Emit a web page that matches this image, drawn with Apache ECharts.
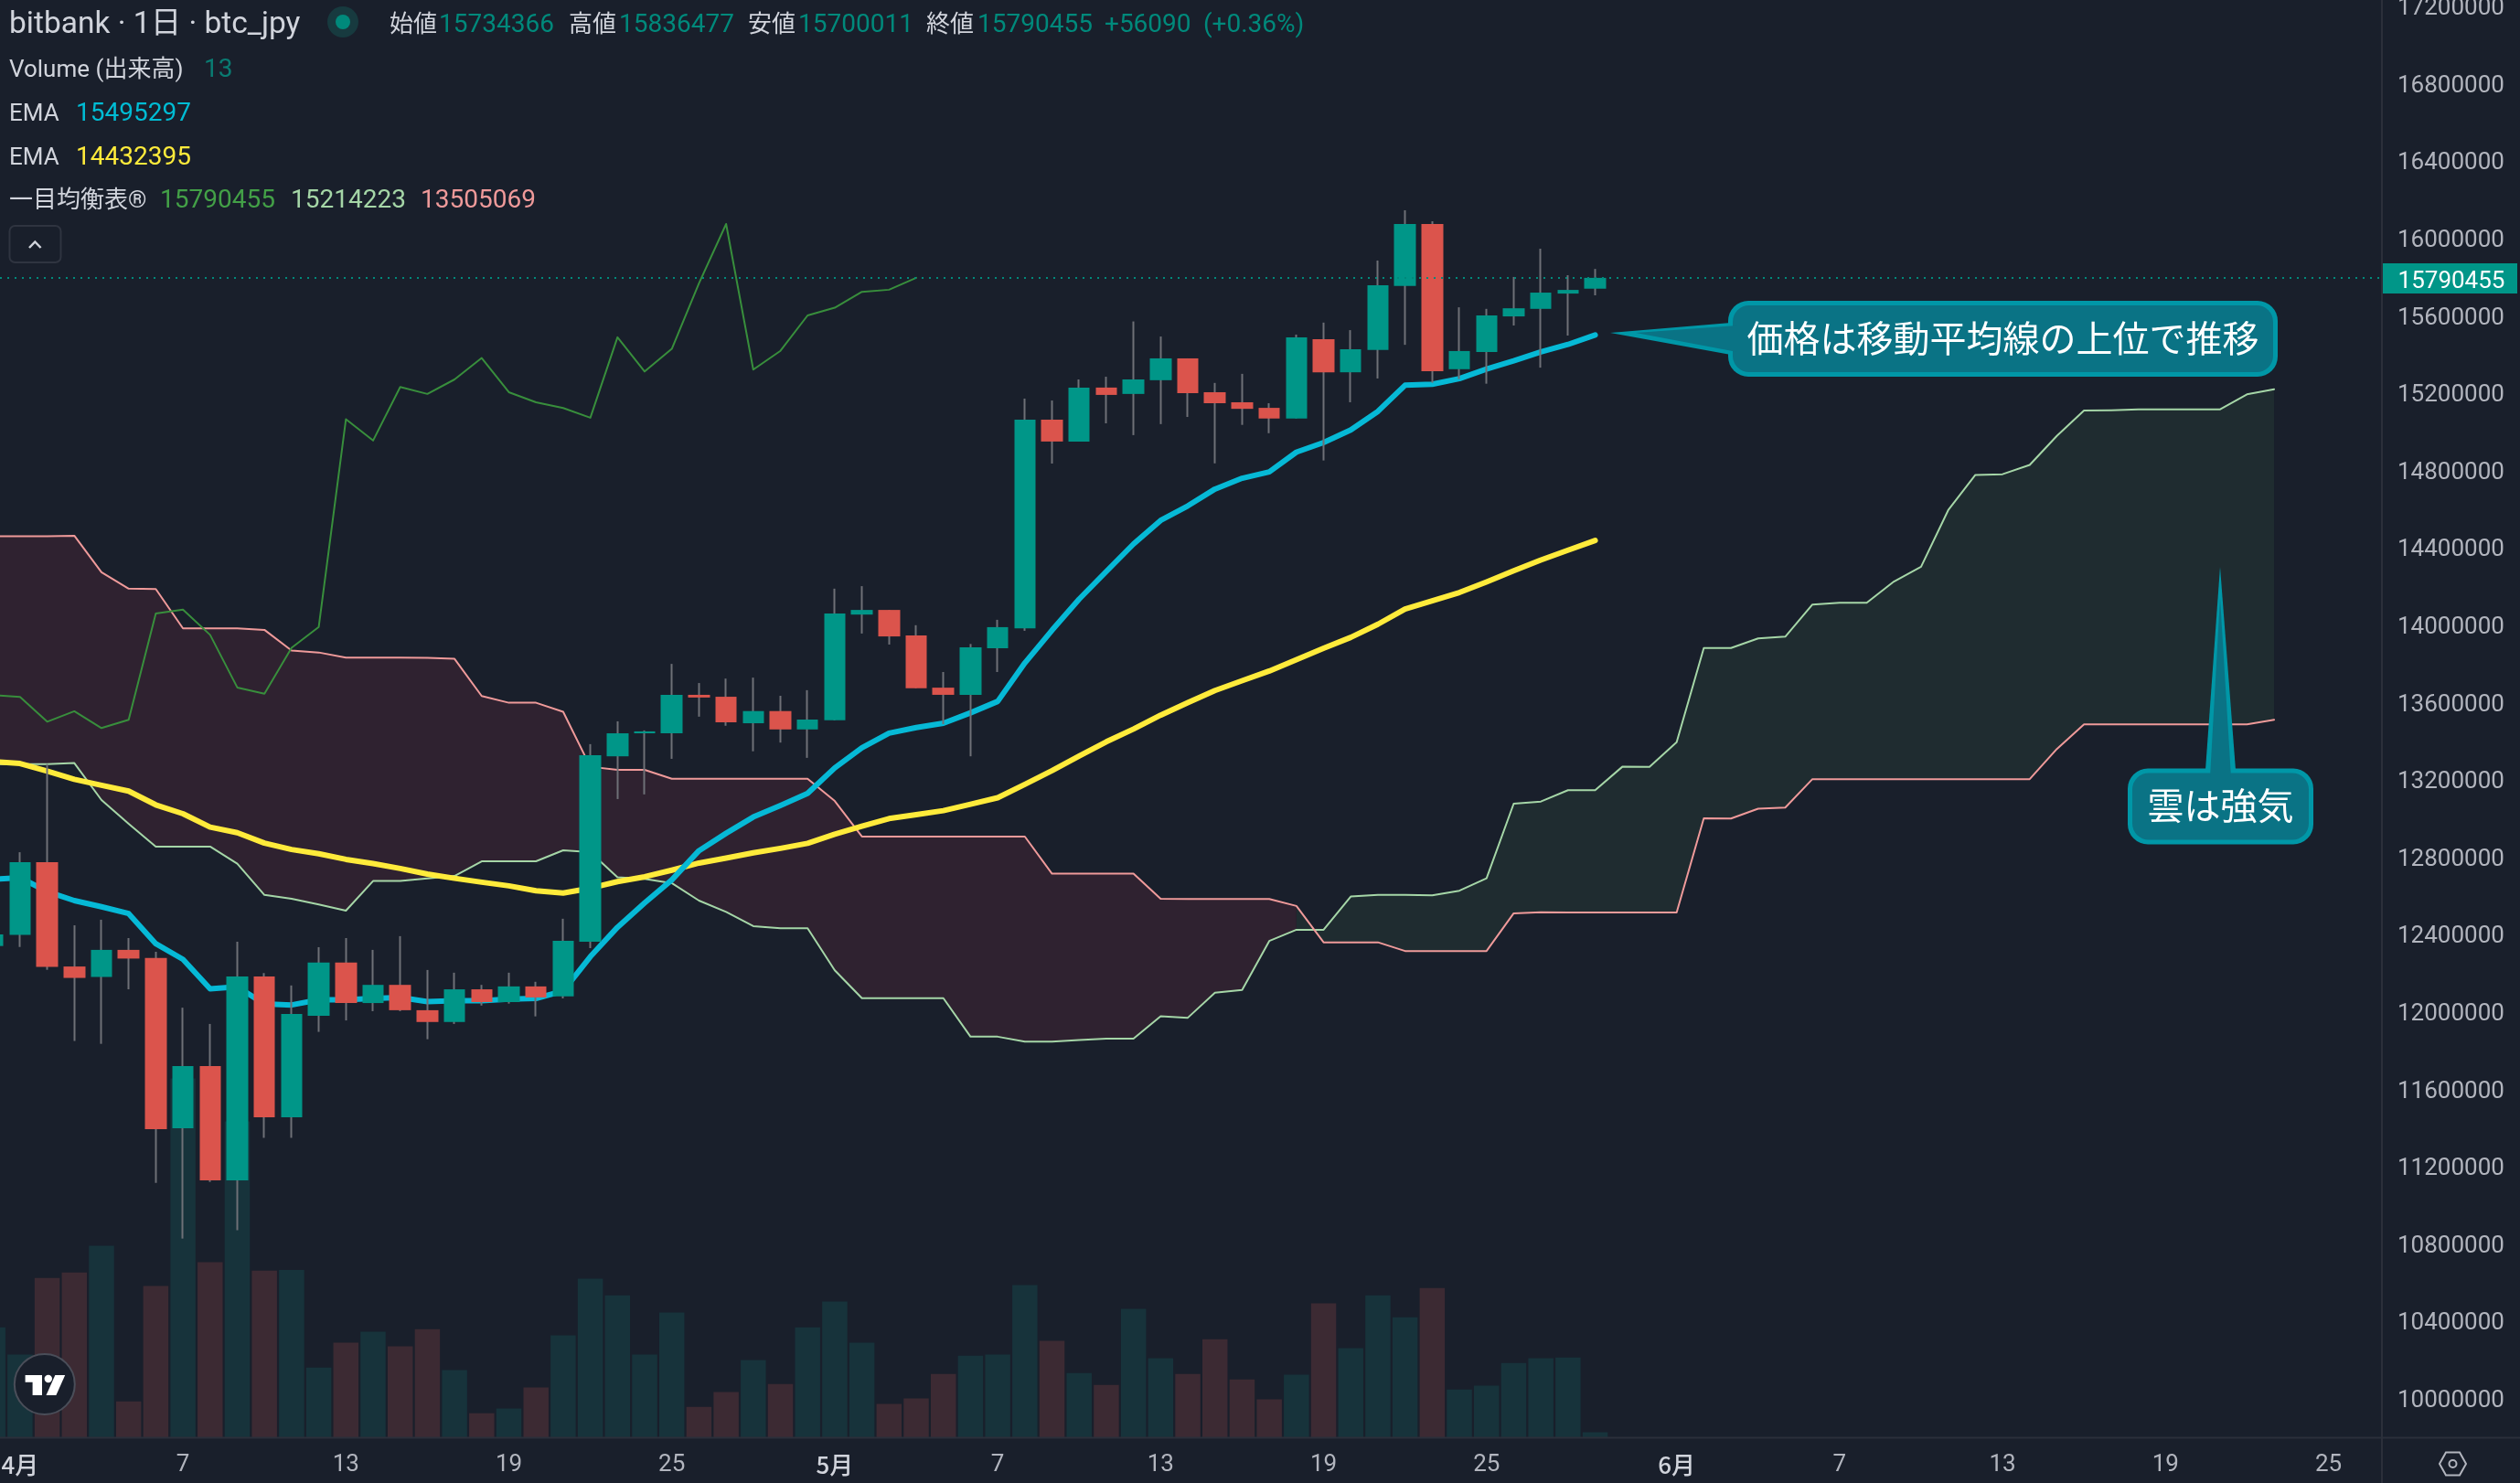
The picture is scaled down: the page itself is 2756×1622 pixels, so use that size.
<!DOCTYPE html>
<html lang="ja">
<head>
<meta charset="utf-8">
<title>bitbank 1日 btc_jpy</title>
<script src="https://cdn.jsdelivr.net/npm/echarts@6/dist/echarts.min.js"></script>
<style>html,body{margin:0;padding:0;background:#191f2b}#c{width:2756px;height:1622px}</style>
</head>
<body>
<div id="c"></div>
<script>
// ---------- values (day 0 = 4月1日, first row = day -1) ----------
const firstDay = -1;
const candles = [ // open, close, low, high
[12335000,12395000,12300000,12450000],[12393000,12769000,12330000,12820000],[12769000,12227000,12212000,13276000],
[12229000,12170000,11844000,12442000],[12175000,12315000,11829000,12471000],[12315000,12270000,12111000,12376000],
[12273000,11388000,11110000,12305000],[11393000,11714000,10822000,12016000],[11714000,11123000,11115000,11932000],
[11123000,12178000,10865000,12357000],[12178000,11449000,11343000,12195000],[11449000,11984000,11343000,12131000],
[11974000,12249000,11891000,12329000],[12249000,12040000,11950000,12376000],[12040000,12134000,11998000,12315000],
[12134000,12003000,11998000,12386000],[12003000,11942000,11853000,12211000],[11942000,12111000,11932000,12197000],
[12111000,12045000,12027000,12134000],[12045000,12126000,12037000,12197000],[12126000,12069000,11971000,12150000],
[12074000,12362000,12064000,12476000],[12357000,13322000,12324000,13379000],[13316000,13435000,13095000,13497000],
[13435000,13445000,13119000,13450000],[13435000,13634000,13303000,13794000],[13634000,13620000,13521000,13695000],
[13624000,13492000,13474000,13718000],[13487000,13550000,13342000,13723000],[13550000,13455000,13387000,13629000],
[13455000,13506000,13308000,13658000],[13502000,14054000,13502000,14183000],[14049000,14073000,13951000,14196000],
[14073000,13936000,13894000,14073000],[13941000,13668000,13668000,13994000],[13671000,13634000,13482000,13752000],
[13634000,13880000,13316000,13897000],[13875000,13984000,13752000,14022000],[13978000,15057000,13965000,15166000],
[15057000,14944000,14830000,15156000],[14944000,15223000,14944000,15265000],[15223000,15185000,15038000,15279000],
[15190000,15265000,14977000,15565000],[15261000,15374000,15034000,15487000],[15374000,15194000,15071000,15374000],
[15199000,15142000,14831000,15247000],[15147000,15113000,15030000,15294000],[15118000,15063000,14987000,15142000],
[15063000,15483000,15063000,15497000],[15473000,15302000,14846000,15559000],[15302000,15421000,15147000,15520000],
[15417000,15752000,15270000,15880000],[15748000,16069000,15444000,16140000],[16069000,15307000,15248000,16083000],
[15318000,15412000,15267000,15638000],[15407000,15596000,15243000,15630000],[15591000,15633000,15544000,15795000],
[15630000,15714000,15326000,15941000],[15709000,15728000,15492000,15804000],[15734366,15790455,15700011,15836477]
];
const volumes = [261,197,378,391,454,86,359,850,415,748,395,397,166,225,251,216,257,160,58,69,119,242,376,337,197,296,73,108,184,127,261,
322,225,80,93,151,194,197,361,229,153,125,305,188,151,233,138,91,149,318,212,337,285,354,114,123,177,188,190,13];
const emaFast = [12680000,12688000,12617000,12570000,12538000,12503000,12347000,12266000,12114000,12124000,12035000,12030000,12057000,12057000,12064000,12069000,12047000,12052000,12052000,12060000,12064000,12102000,12280000,12432000,12558000,12677000,12828000,12918000,13002000,13062000,13124000,13256000,13360000,13436000,13465000,13487000,13541000,13600000,13799000,13968000,14129000,14272000,14414000,14536000,14611000,14698000,14754000,14787000,14889000,14939000,15004000,15100000,15235000,15240000,15269000,15319000,15361000,15407000,15446000,15495297];
const emaSlow = [13289000,13279000,13239000,13197000,13166000,13136000,13065000,13019000,12950000,12921000,12867000,12834000,12812000,12783000,12761000,12736000,12707000,12685000,12665000,12646000,12621000,12609000,12634000,12668000,12693000,12727000,12764000,12790000,12817000,12840000,12866000,12913000,12955000,12994000,13014000,13035000,13068000,13102000,13171000,13242000,13318000,13391000,13457000,13529000,13594000,13656000,13707000,13757000,13816000,13875000,13931000,13999000,14078000,14120000,14163000,14218000,14276000,14331000,14382000,14432395];
const laggingSpan = [13633000,13623000,13495000,13549000,13462000,13505000,14055000,14075000,13944000,13672000,13640000,13877000,13985000,15059000,14949000,15226000,15190000,15265000,15376000,15199000,15147000,15117000,15067000,15483000,15306000,15423000,15762000,16069000,15316000,15413000,15596000,15636000,15718000,15729000,15790455];
const leadingA = [13275000,13275000,13275000,13281000,13090000,12967000,12849000,12849000,12849000,12761000,12599000,12579000,12550000,12518000,12671000,12671000,12684000,12697000,12773000,12773000,12773000,12830000,12820000,12690000,12682000,12660000,12570000,12511000,12438000,12427000,12427000,12209000,12065000,12065000,12065000,12065000,11866000,11866000,11841000,11841000,11849000,11856000,11856000,11972000,11964000,12094000,12108000,12361000,12419000,12419000,12591000,12599000,12599000,12597000,12621000,12685000,13071000,13082000,13141000,13141000,13262000,13261000,13389000,13876000,13876000,13926000,13935000,14101000,14110000,14110000,14220000,14296000,14589000,14771000,14775000,14823000,14973000,15104000,15106000,15110000,15110000,15110000,15110000,15188000,15214223];
const leadingB = [14454000,14454000,14454000,14457000,14268000,14183000,14181000,13978000,13978000,13978000,13970000,13863000,13853000,13826000,13826000,13826000,13825000,13820000,13628000,13593000,13593000,13546000,13262000,13246000,13246000,13200000,13200000,13200000,13200000,13200000,13200000,13085000,12901000,12901000,12901000,12901000,12901000,12901000,12901000,12709000,12709000,12709000,12709000,12579000,12578000,12578000,12578000,12578000,12542000,12354000,12354000,12354000,12309000,12309000,12309000,12309000,12504000,12509000,12508000,12508000,12508000,12508000,12508000,12995000,12994000,13045000,13051000,13198000,13198000,13198000,13198000,13198000,13198000,13198000,13198000,13198000,13354000,13481000,13481000,13481000,13481000,13481000,13481000,13481000,13505069];
const cloudFlipDay = 47;
const priceTicks = [10000000,10400000,10800000,11200000,11600000,12000000,12400000,12800000,13200000,13600000,14000000,14400000,14800000,15200000,15600000,16000000,16400000,16800000,17200000];
const dayTicks = [0,6,12,18,24,30,36,42,48,54,61,67,73,79,85];
const dayTickLabels = ['4月','7','13','19','25','5月','7','13','19','25','6月','7','13','19','25'];
const lastClose = 15790455;
const headerOHLC = [['始値','15734366'],['高値','15836477'],['安値','15700011'],['終値','15790455']];
const headerChange = ['+56090','(+0.36%)'];
const legendVolume = ['Volume (出来高)','13'];
const legendEmaFast = ['EMA','15495297'];
const legendEmaSlow = ['EMA','14432395'];
const legendIchimoku = ['一目均衡表®','15790455','15214223','13505069'];
const titleText = 'bitbank · 1日 · btc_jpy';
const noteAbove = '価格は移動平均線の上位で推移';
const noteCloud = '雲は強気';

// ---------- styling ----------
const UP='#009688', DOWN='#db544c', FONT="Roboto,'Noto Sans CJK JP',sans-serif", CJK="'Noto Sans CJK JP',sans-serif";
const VOL_UP='#17333b', VOL_DOWN='#3c2a33', AXIS='#2b2f3a', TICK='#b2b5be', TXT='#d1d4dc', BOX='#0a7385', BOXEDGE='#0097a7';
const zip = a => a.map((v,i)=>[firstDay+i,v]);
const wicks = candles.map((r,i)=>[firstDay+i,r[0],r[1],r[2],r[3]]);
const bodies = candles.map((r,i)=>[firstDay+i,r[0],r[1],Math.min(r[0],r[1]),Math.max(r[0],r[1])]);
const volumeBars = volumes.map((v,i)=>({value:[firstDay+i,v],itemStyle:{color:candles[i][1]>=candles[i][0]?VOL_UP:VOL_DOWN}}));

function cloudSeries(from,to,color){
  const idx=[]; for(let d=from;d<=to;d++) idx.push(d-firstDay);
  return {type:'custom',z:2,silent:true,animation:false,clip:true,data:[[from,leadingA[idx[0]]]],encode:{x:0,y:1},
    renderItem(p,api){
      const pts=idx.map(i=>api.coord([firstDay+i,leadingA[i]])).concat(idx.slice().reverse().map(i=>api.coord([firstDay+i,leadingB[i]])));
      return {type:'polygon',shape:{points:pts},style:{fill:color}};
    }};
}
const lineS=(data,color,width,z)=>({type:'line',data:zip(data),symbol:'none',z,silent:true,animation:false,clip:true,
  lineStyle:{color,width,cap:'round',join:'round'}});

// ---------- overlay drawing helpers ----------
const T=(x,y,text,fill,size,family,align)=>({type:'text',z:100,silent:true,style:{x,y,text,fill,font:size+'px '+(family||FONT),verticalAlign:'middle',align:align||'left'}});
function callout(box,tailOuter,tailInner,text,size){
  const [x,y,w,h]=box, b=5;
  return [
    {type:'polygon',z:90,silent:true,shape:{points:tailOuter},style:{fill:BOXEDGE}},
    {type:'rect',z:90,silent:true,shape:{x,y,width:w,height:h,r:22},style:{fill:BOXEDGE}},
    {type:'rect',z:91,silent:true,shape:{x:x+b,y:y+b,width:w-2*b,height:h-2*b,r:18},style:{fill:BOX}},
    {type:'polygon',z:91,silent:true,shape:{points:tailInner},style:{fill:BOX}},
    T(x+w/2,y+h/2-1,text,'#ffffff',size,CJK,'center')
  ];
}
const graphics=[
  // header
  T(10,28,titleText,TXT,33.5),
  {type:'circle',z:100,silent:true,shape:{cx:375,cy:24,r:17},style:{fill:'#173a3f'}},
  {type:'circle',z:101,silent:true,shape:{cx:375,cy:24,r:8},style:{fill:'#00897b'}},
  T(426,28,headerOHLC[0][0],TXT,26),T(480,28,headerOHLC[0][1],'#00897b',28),
  T(622,28,headerOHLC[1][0],TXT,26),T(677,28,headerOHLC[1][1],'#00897b',28),
  T(818,28,headerOHLC[2][0],TXT,26),T(873,28,headerOHLC[2][1],'#00897b',28),
  T(1013,28,headerOHLC[3][0],TXT,26),T(1069,28,headerOHLC[3][1],'#00897b',28),
  T(1208,28,headerChange[0],'#00897b',28),T(1316,28,headerChange[1],'#00897b',28),
  T(10,77,legendVolume[0],TXT,26),T(223,77,legendVolume[1],'#0a7b72',28),
  T(10,125,legendEmaFast[0],TXT,26),T(83,125,legendEmaFast[1],'#00bcd4',28),
  T(10,173,legendEmaSlow[0],TXT,26),T(83,173,legendEmaSlow[1],'#ffeb3b',28),
  T(10,220,legendIchimoku[0],TXT,26),T(175,220,legendIchimoku[1],'#43a047',28),T(318,220,legendIchimoku[2],'#a5d6a7',28),T(460,220,legendIchimoku[3],'#ef9a9a',28),
  // collapse button
  {type:'rect',z:100,silent:true,shape:{x:10.5,y:247,width:56,height:40,r:6},style:{fill:'none',stroke:'#2f3440',lineWidth:2}},
  {type:'polyline',z:100,silent:true,shape:{points:[[32,271],[38.3,264.5],[44.6,271]]},style:{fill:'none',stroke:TXT,lineWidth:2.5}},
  // axis frame extension
  {type:'line',z:50,silent:true,shape:{x1:0,y1:1572.5,x2:2756,y2:1572.5},style:{stroke:AXIS,lineWidth:2}},
  {type:'line',z:50,silent:true,shape:{x1:2605,y1:0,x2:2605,y2:1622},style:{stroke:AXIS,lineWidth:2}},
  // corner icon
  {type:'polygon',z:100,silent:true,shape:{points:[[2668,1601],[2675,1588.5],[2690,1588.5],[2697,1601],[2690,1613.5],[2675,1613.5]]},style:{fill:'none',stroke:TICK,lineWidth:2}},
  {type:'circle',z:100,silent:true,shape:{cx:2682.5,cy:1601,r:4},style:{fill:'none',stroke:TICK,lineWidth:2}},
  // logo
  {type:'circle',z:100,silent:true,shape:{cx:48.8,cy:1514,r:33},style:{fill:'#191f2b',stroke:'#4a4e59',lineWidth:2}},
  {type:'polygon',z:101,silent:true,shape:{points:[[27.6,1504],[46,1504],[46,1526],[35.6,1526],[35.6,1511.7],[27.6,1511.7]]},style:{fill:'#fff'}},
  {type:'circle',z:101,silent:true,shape:{cx:52.8,cy:1508,r:4.2},style:{fill:'#fff'}},
  {type:'polygon',z:101,silent:true,shape:{points:[[60.3,1504],[71.2,1504],[61.4,1526],[50.5,1526]]},style:{fill:'#fff'}},
  ...callout([1890,329,601,83],[[1761,364],[1893,353],[1893,388]],[[1789,364],[1900,356],[1900,385]],noteAbove,40),
  ...callout([2327,840.5,203,83],[[2428,620],[2412,842],[2445,842]],[[2428,654],[2417,850],[2440,850]],noteCloud,40)
];

const xMin=-0.737, xMax=86.97, yMin=9791960, yMax=17227300;
const option={
  backgroundColor:'#191f2b',animation:false,
  textStyle:{fontFamily:FONT},
  grid:{left:0,top:0,right:151,bottom:49.5,containLabel:false,outerBoundsMode:'none'},
  xAxis:{type:'value',min:xMin,max:xMax,splitLine:{show:false},axisTick:{show:false},
    axisLine:{show:false},
    axisLabel:{customValues:dayTicks,margin:17,color:TICK,fontSize:26,fontFamily:FONT,
      formatter:v=>{const s=dayTickLabels[dayTicks.indexOf(v)]; return s.includes('月')?'{m|'+s+'}':s;},
      rich:{m:{color:TXT,fontSize:26,fontFamily:CJK,fontWeight:500}}}},
  yAxis:[
    {type:'value',position:'right',min:yMin,max:yMax,splitLine:{show:false},axisTick:{show:false},axisLine:{show:false},
     axisLabel:{customValues:priceTicks,margin:17,color:TICK,fontSize:26,fontFamily:FONT,verticalAlign:'top',lineHeight:8,formatter:v=>String(v)}},
    {type:'value',min:0,max:3400,show:false,splitLine:{show:false}}
  ],
  graphic:graphics,
  series:[
    {type:'bar',yAxisIndex:1,data:volumeBars,barWidth:27.5,z:1,silent:true,animation:false},
    cloudSeries(firstDay,cloudFlipDay,'#2f2230'),
    cloudSeries(cloudFlipDay,83,'#1f2c30'),
    lineS(leadingA,'#a5d6a7',2,3),
    lineS(leadingB,'#ef9a9a',2,3),
    lineS(laggingSpan,'#388e3c',2,3),
    lineS(emaSlow,'#ffeb3b',6,4),
    lineS(emaFast,'#06b9d6',6,4),
    {type:'candlestick',data:wicks,encode:{x:0,y:[1,2,3,4]},barWidth:1,z:5,silent:true,animation:false,
     itemStyle:{color:'#6e7077',color0:'#6e7077',borderColor:'#6e7077',borderColor0:'#6e7077',borderWidth:2}},
    {type:'candlestick',data:bodies,encode:{x:0,y:[1,2,3,4]},barWidth:24,z:6,silent:true,animation:false,
     itemStyle:{color:UP,color0:DOWN,borderColor:UP,borderColor0:DOWN,borderWidth:0},
     markLine:{silent:true,symbol:'none',animation:false,z:7,data:[{yAxis:lastClose}],
       lineStyle:{color:'#00897b',type:[2,6],width:2},label:{show:false}},
     markPoint:{silent:true,animation:false,z:8,data:[{coord:[xMax,lastClose]}],
       symbol:'rect',symbolSize:[148,33],symbolOffset:[74,0.7],itemStyle:{color:'#009688'},
       label:{show:true,position:'inside',offset:[2,4],formatter:()=>String(lastClose),color:'#fff',fontSize:26,fontFamily:FONT}}}
  ]
};
echarts.init(document.getElementById('c'),null,{renderer:'canvas',devicePixelRatio:1}).setOption(option);
</script>
</body>
</html>
